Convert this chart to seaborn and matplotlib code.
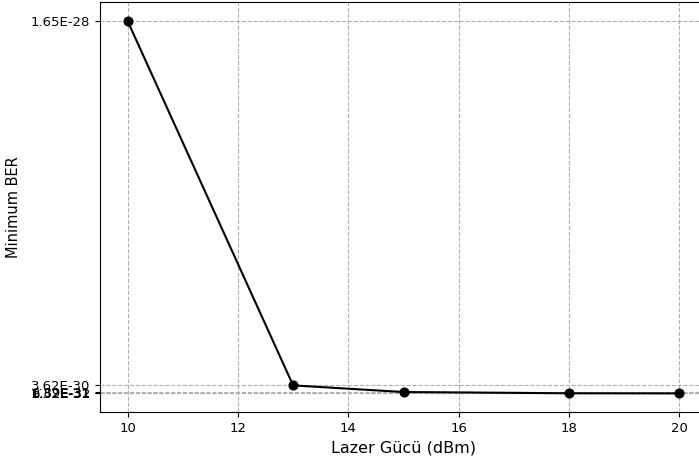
import matplotlib
matplotlib.use("Agg")
import matplotlib.pyplot as plt
import matplotlib.ticker as mticker
import seaborn as sns
import pandas as pd

# Lazer gücü (dBm) ve minimum BER değerleri
laser_power = [10, 13, 15, 18, 20]
min_ber = [1.65e-28, 3.62e-30, 6.89e-31, 1.32e-31, 8.52e-32]

df = pd.DataFrame({"power": laser_power, "ber": min_ber})

fig = plt.figure(figsize=(6.99, 4.58), dpi=100)
ax = fig.add_axes([100 / 699, 46 / 458, 607 / 699, 409.6 / 458])

sns.lineplot(data=df, x="power", y="ber", marker="o", color="black",
             markersize=6.5, markeredgecolor="black", linewidth=1.5, ax=ax)

ax.set_yticks(min_ber)
ax.yaxis.set_major_formatter(mticker.FormatStrFormatter("%.2E"))
ax.set_xticks([10, 12, 14, 16, 18, 20])
ax.set_xlim(9.5, 20.5)
ax.grid(True, linestyle="--", color="#b0b0b0", linewidth=0.8)
ax.set_xlabel("Lazer Gücü (dBm)", fontsize=11.5)
ax.set_ylabel("Minimum BER", fontsize=10.5, labelpad=7)
ax.tick_params(labelsize=9.5)

fig.savefig("out.png", dpi=100)
